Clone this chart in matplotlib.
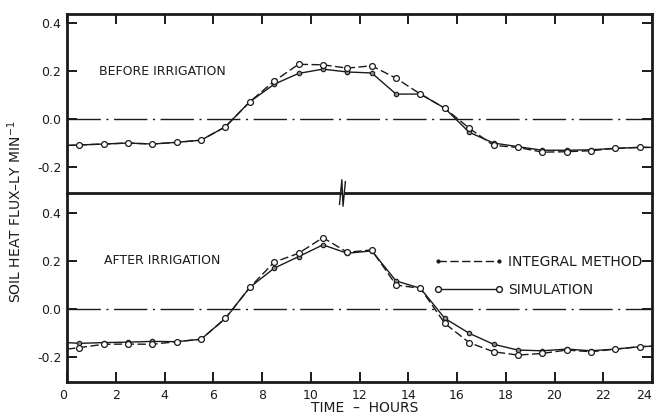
import matplotlib
matplotlib.use("Agg")
import matplotlib.pyplot as plt
from matplotlib.lines import Line2D

hours = [0, 0.5, 1.5, 2.5, 3.5, 4.5, 5.5, 6.5, 7.5, 8.5, 9.5, 10.5, 11.5, 12.5,
         13.5, 14.5, 15.5, 16.5, 17.5, 18.5, 19.5, 20.5, 21.5, 22.5, 23.5, 24]

before_integral = [-0.110, -0.108, -0.104, -0.100, -0.104, -0.097, -0.088, -0.032, 0.072,
                   0.158, 0.228, 0.226, 0.212, 0.222, 0.170, 0.104, 0.045, -0.038,
                   -0.110, -0.118, -0.138, -0.136, -0.132, -0.122, -0.118, -0.118]
before_simulation = [-0.110, -0.108, -0.104, -0.100, -0.104, -0.097, -0.088, -0.032, 0.072,
                     0.145, 0.190, 0.208, 0.196, 0.192, 0.104, 0.104, 0.045, -0.055,
                     -0.100, -0.115, -0.130, -0.130, -0.128, -0.122, -0.118, -0.118]
after_integral = [-0.167, -0.161, -0.147, -0.146, -0.147, -0.136, -0.126, -0.039, 0.090,
                  0.195, 0.232, 0.297, 0.236, 0.246, 0.100, 0.086, -0.060, -0.140,
                  -0.178, -0.192, -0.185, -0.171, -0.178, -0.167, -0.157, -0.155]
after_simulation = [-0.140, -0.143, -0.140, -0.138, -0.135, -0.136, -0.126, -0.039, 0.090,
                    0.170, 0.218, 0.267, 0.232, 0.242, 0.117, 0.086, -0.039, -0.101,
                    -0.147, -0.171, -0.174, -0.167, -0.174, -0.167, -0.157, -0.155]

x_ticks = [0, 2, 4, 6, 8, 10, 12, 14, 16, 18, 20, 22, 24]
y_ticks = [-0.2, 0.0, 0.2, 0.4]
y_ticklabels = ["-0.2", "0.0", "0.2", "0.4"]

FS = 9
INK = "#1a1a1a"
plt.rcParams["font.family"] = ["DejaVu Sans"]

fig = plt.figure(figsize=(6.56, 4.16), dpi=100)
L, R = 67 / 656, 652 / 656
ax1 = fig.add_axes([L, 1 - 193 / 416, R - L, (193 - 14) / 416])
ax2 = fig.add_axes([L, 1 - 382 / 416, R - L, (382 - 193) / 416])

mk = slice(1, -1)
for ax, integ, sim, ylim in [(ax1, before_integral, before_simulation, (-0.308, 0.4375)),
                             (ax2, after_integral, after_simulation, (-0.304, 0.483))]:
    ax.axhline(0, color=INK, lw=1.0, dashes=(24, 4, 1.5, 4))
    ax.plot(hours, sim, color=INK, lw=1.0, marker="o", ms=3.2, mfc="#8a8a8a",
            mec=INK, mew=0.8, markevery=mk)
    ax.plot(hours, integ, color=INK, lw=1.0, dashes=(6, 2.5), marker="o", ms=4.2,
            mfc="white", mec=INK, mew=0.9, markevery=mk)
    ax.set_xlim(0, 24)
    ax.set_ylim(*ylim)
    ax.set_yticks(y_ticks)
    ax.set_yticklabels(y_ticklabels, fontsize=FS, color=INK)
    ax.tick_params(axis="y", direction="in", length=7, width=1.4, left=True, right=True,
                   pad=4, colors=INK)
    for s in ax.spines.values():
        s.set_linewidth(2.0)
        s.set_color(INK)

ax1.spines["bottom"].set_visible(False)
ax2.spines["top"].set_visible(False)
ax1.set_xticks(x_ticks)
ax1.tick_params(axis="x", direction="in", length=7, width=1.4, top=True, bottom=False,
                labelbottom=False, labeltop=False, colors=INK)
ax2.set_xticks(x_ticks)
ax2.set_xticklabels([str(t) for t in x_ticks], fontsize=FS, color=INK)
ax2.tick_params(axis="x", direction="in", length=7, width=1.4, top=False, bottom=True,
                pad=5, colors=INK)
ax2.get_xticklabels()[-1].set_horizontalalignment("right")
ax2.get_xticklabels()[0].set_horizontalalignment("right")

# separator with break mark
tr = ax2.transAxes
bx = 11.3 / 24
ax2.plot([0, bx - 0.004], [1, 1], color=INK, lw=2.0, transform=tr, clip_on=False)
ax2.plot([bx + 0.004, 1], [1, 1], color=INK, lw=2.0, transform=tr, clip_on=False)
ax2.plot([bx - 0.005, bx - 0.001, bx + 0.001, bx + 0.005],
         [0.94, 1.07, 0.93, 1.06], color=INK, lw=1.0, transform=tr, clip_on=False)

ax1.text(1.3, 0.2, "BEFORE IRRIGATION", fontsize=FS, color=INK, va="center")
ax2.text(1.5, 0.2, "AFTER IRRIGATION", fontsize=FS, color=INK, va="center")

handles = [Line2D([], [], color=INK, lw=1.0, dashes=(6, 2.5), marker=".", ms=4),
           Line2D([], [], color=INK, lw=1.0, marker="o", ms=4.2, mfc="white", mec=INK)]
ax2.legend(handles, ["INTEGRAL METHOD", "SIMULATION"], loc="center left",
           bbox_to_anchor=(0.605, 0.56), frameon=False, fontsize=10, handlelength=5,
           handletextpad=0.4, labelspacing=1.0, numpoints=2, labelcolor=INK)

fig.text(0.023, 0.49, "SOIL HEAT FLUX\u2013LY MIN$^{-1}$", rotation=90, fontsize=10,
         color=INK, va="center", ha="center")
fig.text(365 / 656, 1 - 408 / 416, "TIME  \u2013  HOURS", fontsize=10, color=INK,
         ha="center", va="center")

fig.savefig("out.png", dpi=100, facecolor="white")
